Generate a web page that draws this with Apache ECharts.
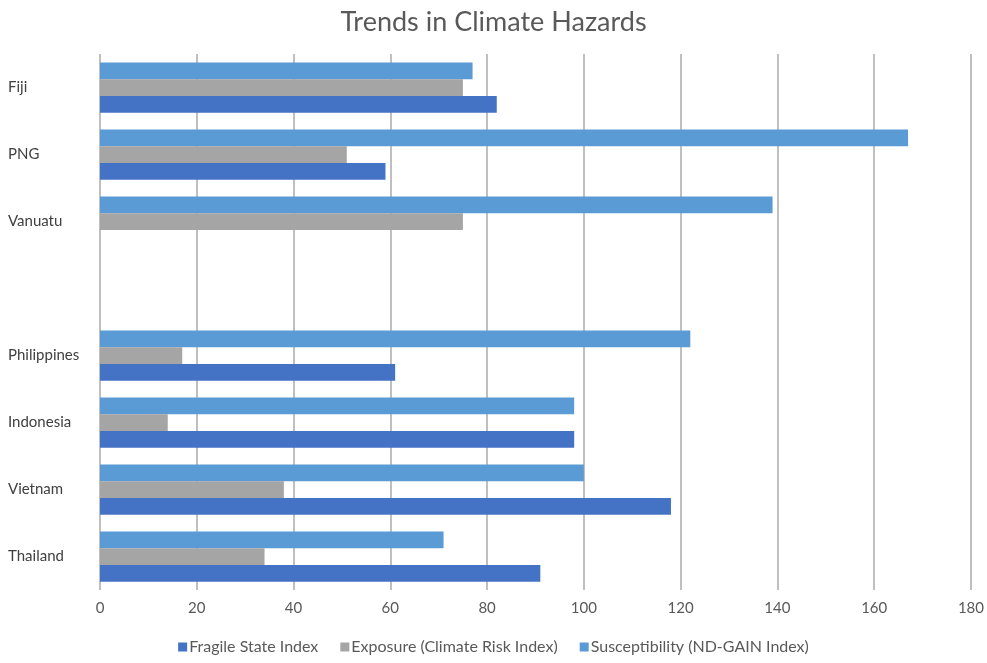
<!DOCTYPE html>
<html>
<head>
<meta charset="utf-8">
<title>Trends in Climate Hazards</title>
<script src="https://cdn.jsdelivr.net/npm/echarts@6/dist/echarts.min.js"></script>
<style>
  html, body { margin: 0; padding: 0; background: #ffffff; }
  #chart { width: 987px; height: 663px; }
</style>
</head>
<body>
<div id="chart"></div>
<script>
// Countries, listed from the bottom of the axis to the top (blank row separates the two regions)
const countries = ['Thailand', 'Vietnam', 'Indonesia', 'Philippines', '', 'Vanuatu', 'PNG', 'Fiji'];

const fragileStateIndex = [91, 118, 98, 61, null, null, 59, 82];
const exposureClimateRisk = [34, 38, 14, 17, null, 75, 51, 75];
const susceptibilityNdGain = [71, 100, 98, 122, null, 139, 167, 77];

const seriesNames = ['Fragile State Index', 'Exposure (Climate Risk Index)', 'Susceptibility (ND-GAIN Index)'];
const xTicks = { min: 0, max: 180, interval: 20 };

const palette = ['#4472C4', '#A5A5A5', '#5B9BD5'];
const font = 'Lato, "Open Sans", sans-serif';

const chart = echarts.init(document.getElementById('chart'), null, { renderer: 'canvas' });

const makeSeries = (name, data, color) => ({
  name: name,
  type: 'bar',
  data: data,
  barGap: '0%',
  barCategoryGap: '25%',
  itemStyle: { color: color },
  emphasis: { disabled: true }
});

chart.setOption({
  animation: false,
  title: {
    text: 'Trends in Climate Hazards',
    left: 'center',
    top: 4,
    textStyle: { fontFamily: font, fontSize: 27, fontWeight: 'normal', color: '#595959' }
  },
  legend: {
    bottom: 3,
    left: 'center',
    itemWidth: 9,
    itemHeight: 9,
    itemGap: 22,
    icon: 'rect',
    textStyle: { fontFamily: font, fontSize: 16, color: '#595959', padding: [0, 0, 0, -3] },
    data: seriesNames
  },
  grid: { left: 100, right: 16, top: 54, bottom: 73, containLabel: false },
  xAxis: {
    type: 'value',
    min: xTicks.min,
    max: xTicks.max,
    interval: xTicks.interval,
    axisLine: { show: false },
    axisTick: { show: false },
    axisLabel: { fontFamily: font, fontSize: 15, color: '#595959', margin: 11 },
    splitLine: { show: true, lineStyle: { color: '#BFBFBF', width: 2 } }
  },
  yAxis: {
    type: 'category',
    data: countries,
    axisLine: { show: false },
    axisTick: { show: false },
    axisLabel: { fontFamily: font, fontSize: 15, color: '#404040', align: 'left', margin: 92 }
  },
  // Stacked within each group from top to bottom: susceptibility, exposure, fragility
  series: [
    makeSeries(seriesNames[2], susceptibilityNdGain, palette[2]),
    makeSeries(seriesNames[1], exposureClimateRisk, palette[1]),
    makeSeries(seriesNames[0], fragileStateIndex, palette[0])
  ]
});
</script>
</body>
</html>
